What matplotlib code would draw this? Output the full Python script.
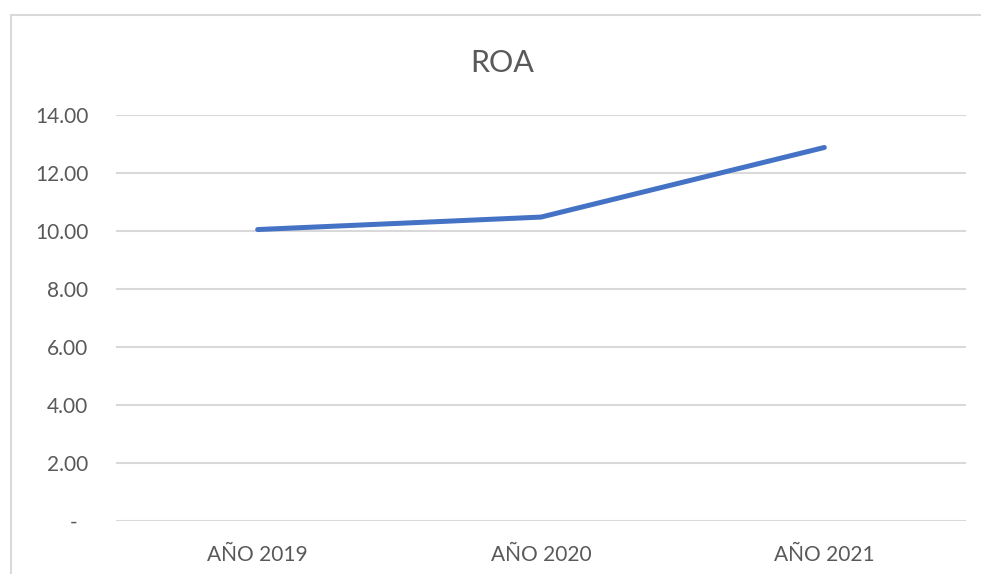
import numpy as np
import matplotlib.pyplot as plt
from matplotlib.lines import Line2D

years = ["AÑO 2019", "AÑO 2020", "AÑO 2021"]
roa = [10.05, 10.48, 12.88]
yticks = [0, 2, 4, 6, 8, 10, 12, 14]

plt.rcParams['font.family'] = ['Lato', 'DejaVu Sans']
gray = "#595959"
grid = "#D9D9D9"

fig = plt.figure(figsize=(9.81, 5.74), dpi=100)
ax = fig.add_axes([116/981, 1 - 521/574, 850/981, 406/574])

x = np.arange(len(years))
ax.plot(x, roa, color="#4472C4", lw=3.6, solid_capstyle="round", solid_joinstyle="round", zorder=3)

ax.set_xlim(-0.5, 2.5)
ax.set_ylim(0, 14)
ax.set_yticks(yticks)
ax.set_yticklabels(["-  " if v == 0 else f"{v:.2f}" for v in yticks])
ax.set_xticks(x)
ax.set_xticklabels(years)
ax.tick_params(axis="y", length=0, pad=20, labelsize=15, labelcolor=gray)
ax.tick_params(axis="x", length=0, pad=17, labelsize=15, labelcolor=gray)
ax.grid(axis="y", color=grid, lw=1.5)
ax.set_axisbelow(True)
for s in ax.spines.values():
    s.set_visible(False)

fig.text(502/981, 1 - 72/574, "ROA", ha="center", va="baseline", fontsize=22, color=gray)

# chart frame (partly cut off on the right and bottom)
fig.add_artist(Line2D([11/981, 11/981], [0, 1 - 15/574], color=grid, lw=1.5))
fig.add_artist(Line2D([11/981, 1], [1 - 15/574, 1 - 15/574], color=grid, lw=1.5))

fig.savefig("out.png", dpi=100)
